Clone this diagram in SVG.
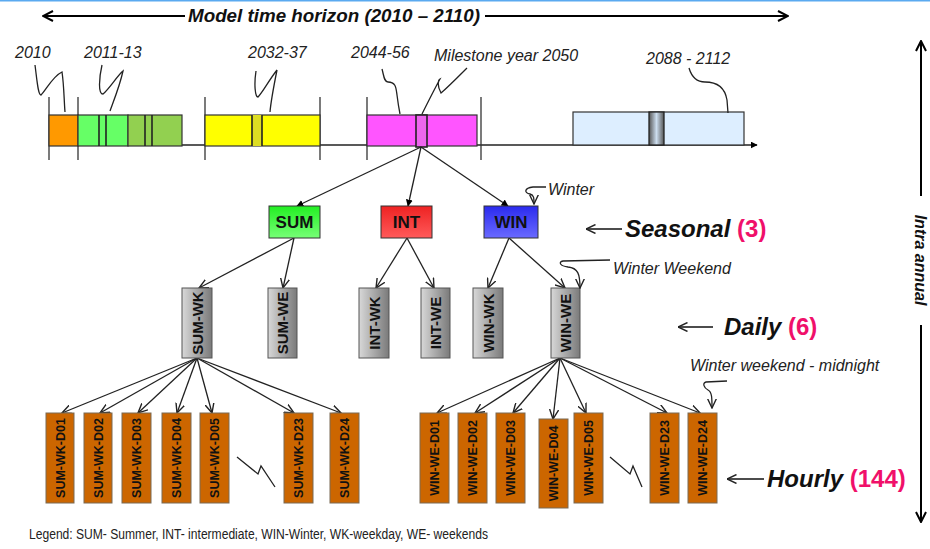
<svg xmlns="http://www.w3.org/2000/svg" width="930" height="549" viewBox="0 0 930 549">
<defs>
<marker id="fa" viewBox="0 0 10 10" refX="9" refY="5" markerWidth="7" markerHeight="7" orient="auto" markerUnits="userSpaceOnUse"><path d="M0,0 L10,5 L0,10 z" fill="#000"/></marker>
<marker id="oa" viewBox="0 0 10 10" refX="9.5" refY="5" markerWidth="10" markerHeight="10" orient="auto" markerUnits="userSpaceOnUse"><path d="M0,0.5 L9.5,5 L0,9.5" fill="none" stroke="#222" stroke-width="1.4"/></marker>
<marker id="la" viewBox="0 0 12 12" refX="11" refY="6" markerWidth="12" markerHeight="12" orient="auto" markerUnits="userSpaceOnUse"><path d="M1,1 L11,6 L1,11" fill="none" stroke="#000" stroke-width="2"/></marker>
<linearGradient id="gSum" x1="0" y1="0" x2="0" y2="1"><stop offset="0" stop-color="#22ee22"/><stop offset="1" stop-color="#77ff77"/></linearGradient>
<linearGradient id="gInt" x1="0" y1="0" x2="0" y2="1"><stop offset="0" stop-color="#ee2222"/><stop offset="1" stop-color="#ff5a5a"/></linearGradient>
<linearGradient id="gWin" x1="0" y1="0" x2="0" y2="1"><stop offset="0" stop-color="#2a2aee"/><stop offset="1" stop-color="#6a6aff"/></linearGradient>
<linearGradient id="gGray" x1="0" y1="0" x2="1" y2="0"><stop offset="0" stop-color="#d8d8d8"/><stop offset="1" stop-color="#7a7a7a"/></linearGradient>
<linearGradient id="gStripe" x1="0" y1="0" x2="1" y2="0"><stop offset="0" stop-color="#555"/><stop offset="0.5" stop-color="#ccddee"/><stop offset="1" stop-color="#555"/></linearGradient>
</defs>
<style>
.lbl{font-family:"Liberation Sans",Arial,sans-serif;font-style:italic;font-size:16px;fill:#222}
.big{font-family:"Liberation Sans",Arial,sans-serif;font-style:italic;font-weight:bold;font-size:24px;fill:#111}
.num{font-family:"Liberation Sans",Arial,sans-serif;font-style:normal;font-weight:bold;fill:#f0106a}
.sea{font-family:"Liberation Sans",Arial,sans-serif;font-weight:bold;font-size:17px;fill:#111;text-anchor:middle}
.day{font-family:"Liberation Sans",Arial,sans-serif;font-weight:bold;font-size:15px;fill:#111;text-anchor:middle}
.hr{font-family:"Liberation Sans",Arial,sans-serif;font-weight:bold;font-size:12.5px;fill:#111;text-anchor:middle}
.tbox{stroke:#333;stroke-width:1.2}
.stripe{fill:none;stroke:#222;stroke-width:1.6}
.tick{stroke:#333;stroke-width:1.3}
.sq{fill:none;stroke:#222;stroke-width:1.3}
.hbox{fill:#cc6600;stroke:#7a6a55;stroke-width:1}
.dbox{fill:url(#gGray);stroke:#555;stroke-width:1}
.con{fill:none;stroke:#222;stroke-width:1.3}
</style>
<rect x="0" y="0" width="930" height="1.5" fill="#5aaaf0"/>

<!-- Title arrows -->
<g id="horizon">
<line x1="185" y1="16" x2="43" y2="16" stroke="#000" stroke-width="2" marker-end="url(#la)"/>
<line x1="485" y1="16" x2="788" y2="16" stroke="#000" stroke-width="2" marker-end="url(#la)"/>
<text x="188" y="22" font-family="Liberation Sans, Arial, sans-serif" font-weight="bold" font-style="italic" font-size="19" fill="#111" textLength="292" lengthAdjust="spacingAndGlyphs">Model time horizon (2010 – 2110)</text>
</g>

<!-- Timeline -->
<g id="timeline">
<line x1="49" y1="145" x2="757" y2="145" stroke="#222" stroke-width="1.3" marker-end="url(#fa)"/>
<line class="tick" x1="49" y1="97" x2="49" y2="160"/>
<line class="tick" x1="78" y1="97" x2="78" y2="160"/>
<line class="tick" x1="205" y1="97" x2="205" y2="160"/>
<line class="tick" x1="320" y1="97" x2="320" y2="160"/>
<line class="tick" x1="367" y1="97" x2="367" y2="160"/>
<line class="tick" x1="481" y1="97" x2="481" y2="160"/>
<rect class="tbox" x="49" y="115" width="29" height="31" fill="#ff9900"/>
<rect class="tbox" x="78" y="115" width="50" height="31" fill="#66ff66"/>
<rect class="tbox" x="128" y="115" width="54" height="31" fill="#92d050"/>
<line class="stripe" x1="99" y1="115" x2="99" y2="146"/><line class="stripe" x1="106" y1="115" x2="106" y2="146"/>
<line class="stripe" x1="145" y1="115" x2="145" y2="146"/><line class="stripe" x1="152" y1="115" x2="152" y2="146"/>
<rect class="tbox" x="205" y="115" width="115" height="31" fill="#ffff00"/>
<rect x="252" y="115" width="10" height="31" fill="#dddd22"/>
<line class="stripe" x1="252" y1="115" x2="252" y2="146"/><line class="stripe" x1="262" y1="115" x2="262" y2="146"/>
<rect class="tbox" x="367" y="115" width="110" height="31" fill="#ff55ff"/>
<rect x="416" y="115" width="11" height="32" fill="#ee66ee" stroke="#222" stroke-width="1.6"/>
<rect class="tbox" x="573" y="112" width="171" height="33" fill="#ddeeff"/>
<rect x="649" y="112" width="15" height="33" fill="url(#gStripe)" stroke="#222" stroke-width="1.3"/>
</g>

<!-- Year labels -->
<g id="yearlabels">
<text class="lbl" x="15" y="58">2010</text>
<text class="lbl" x="84" y="58">2011-13</text>
<text class="lbl" x="248" y="58">2032-37</text>
<text class="lbl" x="351" y="58">2044-56</text>
<text class="lbl" x="434" y="61">Milestone year 2050</text>
<text class="lbl" x="646" y="64">2088 - 2112</text>
<path class="sq" d="M35,65 C37,80 38,95 41,95 C46,90 53,76 62,72 C64,85 64,100 65,112"/>
<path class="sq" d="M102,65 C99,78 98,94 103,94 C110,88 117,76 123,71 C120,85 114,100 110,111"/>
<path class="sq" d="M256,71 C254,84 255,97 258,97 C263,92 269,80 277,70 C274,85 271,100 270,112"/>
<path class="sq" d="M382,69 C384,76 384,82 388,82 C396,82 396,88 397,95 C398,103 399,109 400,114"/>
<path class="sq" d="M467,68 C457,78 447,88 441,93 C437,86 438,80 440,79 C434,90 427,104 422,114"/>
<path class="sq" d="M689,68 C692,78 697,82 705,82 C718,82 725,88 727,100 L728,113"/>
</g>

<!-- Connectors -->
<g id="connectors">
<line class="con" x1="421" y1="147" x2="297" y2="206" marker-end="url(#fa)"/>
<line class="con" x1="421" y1="147" x2="408" y2="206" marker-end="url(#fa)"/>
<line class="con" x1="421" y1="147" x2="508" y2="206" marker-end="url(#fa)"/>
<line class="con" x1="294" y1="238" x2="199" y2="288" marker-end="url(#oa)"/>
<line class="con" x1="294" y1="238" x2="283" y2="288" marker-end="url(#oa)"/>
<line class="con" x1="407" y1="238" x2="376" y2="288" marker-end="url(#oa)"/>
<line class="con" x1="407" y1="238" x2="434" y2="288" marker-end="url(#oa)"/>
<line class="con" x1="509" y1="238" x2="488" y2="288" marker-end="url(#oa)"/>
<line class="con" x1="509" y1="238" x2="565" y2="288" marker-end="url(#oa)"/>
<line class="con" x1="197" y1="358" x2="62" y2="413" marker-end="url(#oa)"/>
<line class="con" x1="197" y1="358" x2="100" y2="413" marker-end="url(#oa)"/>
<line class="con" x1="197" y1="358" x2="138" y2="413" marker-end="url(#oa)"/>
<line class="con" x1="197" y1="358" x2="177" y2="413" marker-end="url(#oa)"/>
<line class="con" x1="197" y1="358" x2="212" y2="413" marker-end="url(#oa)"/>
<line class="con" x1="197" y1="358" x2="294" y2="413" marker-end="url(#oa)"/>
<line class="con" x1="197" y1="358" x2="341" y2="413" marker-end="url(#oa)"/>
<line class="con" x1="560" y1="358" x2="437" y2="413" marker-end="url(#oa)"/>
<line class="con" x1="560" y1="358" x2="475" y2="413" marker-end="url(#oa)"/>
<line class="con" x1="560" y1="358" x2="513" y2="413" marker-end="url(#oa)"/>
<line class="con" x1="560" y1="358" x2="553" y2="419" marker-end="url(#oa)"/>
<line class="con" x1="560" y1="358" x2="586" y2="413" marker-end="url(#oa)"/>
<line class="con" x1="560" y1="358" x2="667" y2="413" marker-end="url(#oa)"/>
<line class="con" x1="560" y1="358" x2="700" y2="413" marker-end="url(#oa)"/>
</g>

<!-- Seasonal -->
<g id="SUM"><rect x="269" y="206" width="51" height="32" fill="url(#gSum)" stroke="#333"/><text class="sea" x="294.5" y="228">SUM</text></g>
<g id="INT"><rect x="381" y="206" width="51" height="32" fill="url(#gInt)" stroke="#333"/><text class="sea" x="406.5" y="228">INT</text></g>
<g id="WIN"><rect x="484" y="206" width="54" height="32" fill="url(#gWin)" stroke="#333"/><text class="sea" x="511" y="228">WIN</text></g>

<!-- Daily -->
<g id="SUM-WK"><rect class="dbox" x="182" y="288" width="30" height="70"/><text class="day" transform="translate(202.5,323) rotate(-90)">SUM-WK</text></g>
<g id="SUM-WE"><rect class="dbox" x="268" y="288" width="29" height="70"/><text class="day" transform="translate(288,323) rotate(-90)">SUM-WE</text></g>
<g id="INT-WK"><rect class="dbox" x="359" y="288" width="30" height="70"/><text class="day" transform="translate(379.5,323) rotate(-90)">INT-WK</text></g>
<g id="INT-WE"><rect class="dbox" x="421" y="288" width="29" height="70"/><text class="day" transform="translate(441,323) rotate(-90)">INT-WE</text></g>
<g id="WIN-WK"><rect class="dbox" x="473" y="288" width="30" height="70"/><text class="day" transform="translate(493.5,323) rotate(-90)">WIN-WK</text></g>
<g id="WIN-WE"><rect class="dbox" x="551" y="288" width="29" height="70"/><text class="day" transform="translate(571,323) rotate(-90)">WIN-WE</text></g>

<!-- Hourly -->
<g id="SUM-WK-D01"><rect class="hbox" x="46" y="413" width="28" height="90"/><text class="hr" transform="translate(64.5,458) rotate(-90)">SUM-WK-D01</text></g>
<g id="SUM-WK-D02"><rect class="hbox" x="84" y="413" width="28" height="90"/><text class="hr" transform="translate(102.5,458) rotate(-90)">SUM-WK-D02</text></g>
<g id="SUM-WK-D03"><rect class="hbox" x="122" y="413" width="29" height="90"/><text class="hr" transform="translate(141,458) rotate(-90)">SUM-WK-D03</text></g>
<g id="SUM-WK-D04"><rect class="hbox" x="162" y="413" width="29" height="90"/><text class="hr" transform="translate(181,458) rotate(-90)">SUM-WK-D04</text></g>
<g id="SUM-WK-D05"><rect class="hbox" x="200" y="413" width="29" height="90"/><text class="hr" transform="translate(219,458) rotate(-90)">SUM-WK-D05</text></g>
<g id="SUM-WK-D23"><rect class="hbox" x="284" y="413" width="29" height="90"/><text class="hr" transform="translate(303,458) rotate(-90)">SUM-WK-D23</text></g>
<g id="SUM-WK-D24"><rect class="hbox" x="330" y="413" width="29" height="90"/><text class="hr" transform="translate(349,458) rotate(-90)">SUM-WK-D24</text></g>
<g id="WIN-WE-D01"><rect class="hbox" x="420" y="413" width="29" height="90"/><text class="hr" transform="translate(439,458) rotate(-90)">WIN-WE-D01</text></g>
<g id="WIN-WE-D02"><rect class="hbox" x="458" y="413" width="29" height="90"/><text class="hr" transform="translate(477,458) rotate(-90)">WIN-WE-D02</text></g>
<g id="WIN-WE-D03"><rect class="hbox" x="496" y="413" width="29" height="90"/><text class="hr" transform="translate(515,458) rotate(-90)">WIN-WE-D03</text></g>
<g id="WIN-WE-D04"><rect class="hbox" x="539" y="419" width="29" height="89"/><text class="hr" transform="translate(558,463.5) rotate(-90)">WIN-WE-D04</text></g>
<g id="WIN-WE-D05"><rect class="hbox" x="574" y="413" width="29" height="90"/><text class="hr" transform="translate(593,458) rotate(-90)">WIN-WE-D05</text></g>
<g id="WIN-WE-D23"><rect class="hbox" x="650" y="413" width="29" height="90"/><text class="hr" transform="translate(669,458) rotate(-90)">WIN-WE-D23</text></g>
<g id="WIN-WE-D24"><rect class="hbox" x="688" y="413" width="29" height="90"/><text class="hr" transform="translate(707,458) rotate(-90)">WIN-WE-D24</text></g>

<!-- break marks -->
<path class="sq" d="M237,457 L258,474 L261,466 L275,487"/>
<path class="sq" d="M610,457 L630,474 L633,466 L642,487"/>

<!-- annotations -->
<g id="ann-winter">
<text class="lbl" x="548" y="195">Winter</text>
<path class="sq" d="M546,187 L533,187 C524,188 524,193 530,194 C534,195 534,198 534,204" marker-end="url(#oa)"/>
</g>
<g id="ann-winter-weekend">
<text class="lbl" x="613" y="274">Winter Weekend</text>
<path class="sq" d="M610,260 L563,261 C558,262 560,266 568,267 C578,268 580,274 580,288" marker-end="url(#oa)"/>
</g>
<g id="ann-midnight">
<text class="lbl" x="690" y="371">Winter weekend - midnight</text>
<path class="sq" d="M727,381 L706,382 C702,383 704,388 708,390 C712,392 712,398 712,408" marker-end="url(#oa)"/>
</g>

<!-- level labels -->
<g id="seasonal-label">
<line x1="622" y1="229" x2="586" y2="229" stroke="#111" stroke-width="1.5" marker-end="url(#oa)"/>
<text class="big" x="625" y="237">Seasonal <tspan class="num">(3)</tspan></text>
</g>
<g id="daily-label">
<line x1="713" y1="327" x2="678" y2="327" stroke="#111" stroke-width="1.5" marker-end="url(#oa)"/>
<text class="big" x="724" y="335">Daily <tspan class="num">(6)</tspan></text>
</g>
<g id="hourly-label">
<line x1="764" y1="479" x2="727" y2="479" stroke="#111" stroke-width="1.5" marker-end="url(#oa)"/>
<text class="big" x="767" y="487" font-size="23">Hourly <tspan class="num">(144)</tspan></text>
</g>

<g id="intra-annual">
<line x1="921" y1="196" x2="921" y2="41" stroke="#000" stroke-width="2" marker-end="url(#la)"/>
<line x1="921" y1="325" x2="921" y2="522" stroke="#000" stroke-width="2" marker-end="url(#la)"/>
<text transform="translate(915,260) rotate(90)" text-anchor="middle" font-family="Liberation Sans, Arial, sans-serif" font-weight="bold" font-style="italic" font-size="16" fill="#111">Intra annual</text>
</g>

<text x="29" y="539" font-family="Liberation Sans, Arial, sans-serif" font-size="14" fill="#222" textLength="459" lengthAdjust="spacingAndGlyphs">Legend: SUM- Summer, INT-  intermediate, WIN-Winter, WK-weekday, WE- weekends</text>
</svg>
